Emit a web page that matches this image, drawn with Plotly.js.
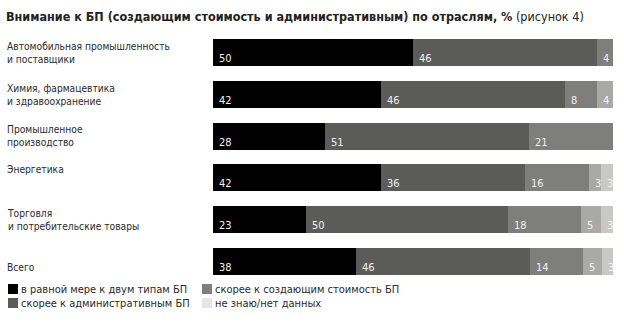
<!DOCTYPE html>
<html>
<head>
<meta charset="utf-8">
<script src="https://cdn.plot.ly/plotly-3.0.1.min.js"></script>
<style>html,body{margin:0;padding:0;background:#fff;}#chart{width:624px;height:326px;}</style>
</head>
<body>
<div id="chart"></div>
<script>
const categories = ['Автомобильная промышленность<br>и поставщики', 'Химия, фармацевтика<br>и здравоохранение', 'Промышленное<br>производство', 'Энергетика', 'Торговля<br>и потребительские товары', 'Всего'];
const seriesNames = ['в равной мере к двум типам БП', 'скорее к административным БП', 'скорее к создающим стоимость БП', 'другое', 'не знаю/нет данных'];
const equalBoth = [50, 42, 28, 42, 23, 38];
const adminBP = [46, 46, 51, 36, 50, 46];
const valueBP = [4, 8, 21, 16, 18, 14];
const otherBP = [null, 4, null, 3, 5, 5];
const unknownBP = [null, null, null, 3, 3, 3];
const titleMain = 'Внимание к БП (создающим стоимость и административным) по отраслям, %';
const titleNote = '(рисунок 4)';

const series = [equalBoth, adminBP, valueBP, otherBP, unknownBP];
const colors = ['#000000', '#5b5c59', '#7e7f7c', '#a9aaa7', '#c8c9c6'];
const legendColors = ['#000000', '#5b5c59', '#7e7f7c', null, '#e6e6e6'];
// legend slots: [column, row]
const legendSlots = [[0, 0], [0, 1], [1, 0], null, [1, 1]];
const FONT = 'DejaVu Sans Condensed, DejaVu Sans, sans-serif';
const yIdx = categories.map((c, i) => i);

const traces = series.map((vals, s) => ({
  type: 'bar', orientation: 'h', name: seriesNames[s],
  y: yIdx, x: vals.map(v => v == null ? 0 : v),
  marker: {color: colors[s], line: {width: 0}},
  showlegend: false, hoverinfo: 'skip'
}));

// geometry helpers (pixel -> paper)
const L = 213, W = 400, T = 32, H = 250;
const px = p => (p - L) / W;
const py = p => 1 - (p - T) / H;

const annotations = [];
const shapes = [];
const labelShift = categories.map(c => 0);
labelShift[3] = 8; labelShift[5] = -6;
categories.forEach((c, i) => {
  annotations.push({xref: 'paper', yref: 'y', x: px(5), y: i, xanchor: 'left', yanchor: 'middle',
    align: 'left', text: c, showarrow: false, yshift: labelShift[i],
    font: {family: FONT, size: 10.2, color: '#2a2a2a'}});
});
categories.forEach((c, i) => {
  const total = series.reduce((a, arr) => a + (arr[i] || 0), 0);
  let cum = 0;
  series.forEach((arr, s) => {
    const v = arr[i];
    if (v == null) return;
    annotations.push({xref: 'x', yref: 'y', x: cum / total * 100, y: i, xanchor: 'left', yanchor: 'middle',
      text: String(v), showarrow: false, xshift: 4, yshift: -6,
      font: {family: FONT, size: 11, color: '#f2f2f2'}});
    cum += v;
  });
});
annotations.push({xref: 'paper', yref: 'paper', x: px(4), y: py(26), xanchor: 'left', yanchor: 'bottom',
  text: '<b>' + titleMain + '</b> ' + titleNote, showarrow: false,
  font: {family: FONT, size: 12.5, color: '#222'}});

// legend
seriesNames.forEach((n, s) => {
  const slot = legendSlots[s];
  if (!slot) return;
  const x0 = 8 + slot[0] * 194, yc = 289 + slot[1] * 14;
  shapes.push({type: 'rect', xref: 'paper', yref: 'paper', x0: px(x0), x1: px(x0 + 10),
    y0: py(yc - 5), y1: py(yc + 5), fillcolor: legendColors[s], line: {width: 0}});
  annotations.push({xref: 'paper', yref: 'paper', x: px(x0 + 11), y: py(yc), xanchor: 'left', yanchor: 'middle',
    text: n, showarrow: false, font: {family: FONT, size: 11, color: '#2a2a2a'}});
});

const layout = {
  width: 624, height: 326,
  margin: {l: L, r: 624 - L - W, t: T, b: 326 - T - H, autoexpand: false},
  paper_bgcolor: '#ffffff', plot_bgcolor: '#ffffff',
  barmode: 'stack', barnorm: 'percent', bargap: 0.35,
  xaxis: {range: [0, 100], visible: false, fixedrange: true},
  yaxis: {autorange: 'reversed', visible: false, fixedrange: true},
  showlegend: false,
  annotations: annotations, shapes: shapes
};
Plotly.newPlot('chart', traces, layout, {displayModeBar: false, staticPlot: true});
</script>
</body>
</html>
